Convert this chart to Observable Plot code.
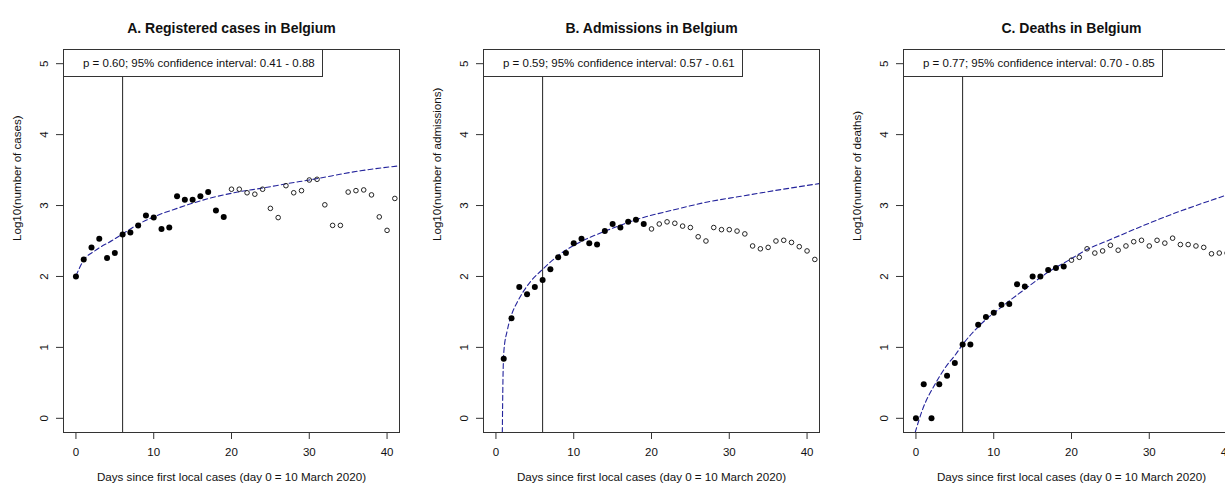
<!DOCTYPE html>
<html>
<head>
<meta charset="utf-8">
<script src="https://cdn.jsdelivr.net/npm/d3@7"></script>
<script src="https://cdn.jsdelivr.net/npm/@observablehq/plot@0.6"></script>
<style>
  html, body { margin: 0; padding: 0; background: #fff; overflow: hidden; }
  #row { display: flex; width: 1260px; height: 486px; }
  .panel { position: relative; width: 420px; height: 486px; flex: none; }
  .legend {
    position: absolute; left: 63px; top: 49px; width: 260px; height: 28px;
    box-sizing: border-box; border: 1px solid #333; background: #fff;
    font: 11.5px "Liberation Sans", Arial, sans-serif; color: #111;
    padding-left: 19px; line-height: 26px; white-space: nowrap;
  }
</style>
</head>
<body>
<div id="row"></div>
<script>
// Days since the first local cases (day 0 = 10 March 2020)
const days = [0, 1, 2, 3, 4, 5, 6, 7, 8, 9, 10, 11, 12, 13, 14, 15, 16, 17, 18, 19, 20,
  21, 22, 23, 24, 25, 26, 27, 28, 29, 30, 31, 32, 33, 34, 35, 36, 37, 38, 39, 40, 41];

// Last day included in the growth-model fit (filled dots); later days are open circles
const lastFitDay = 19;
// Day marked by the vertical reference line
const markerDay = 6;

// log10 of daily counts
const casesLog = [2.00, 2.24, 2.41, 2.53, 2.26, 2.33, 2.59, 2.62, 2.72, 2.86, 2.83, 2.67, 2.69,
  3.13, 3.08, 3.08, 3.13, 3.19, 2.93, 2.84, 3.23, 3.23, 3.18, 3.16, 3.23, 2.96, 2.83, 3.28,
  3.18, 3.21, 3.36, 3.37, 3.01, 2.72, 2.72, 3.19, 3.21, 3.22, 3.15, 2.84, 2.65, 3.10];
const admissionsLog = [null, 0.84, 1.41, 1.85, 1.75, 1.85, 1.95, 2.10, 2.27, 2.33, 2.47, 2.53,
  2.47, 2.45, 2.64, 2.74, 2.69, 2.77, 2.80, 2.74, 2.67, 2.74, 2.77, 2.75, 2.71, 2.69, 2.56,
  2.50, 2.69, 2.66, 2.66, 2.64, 2.60, 2.43, 2.39, 2.41, 2.50, 2.51, 2.48, 2.42, 2.36, 2.24];
const deathsLog = [0.00, 0.48, 0.00, 0.48, 0.60, 0.78, 1.04, 1.04, 1.32, 1.43, 1.49, 1.60, 1.61,
  1.89, 1.86, 2.00, 2.00, 2.09, 2.12, 2.14, 2.23, 2.27, 2.39, 2.33, 2.36, 2.44, 2.37, 2.43,
  2.49, 2.51, 2.43, 2.51, 2.47, 2.54, 2.45, 2.45, 2.43, 2.41, 2.32, 2.33, 2.33, null];

// Fitted growth curves (day, log10 value)
const casesFitDay = [0, 1, 2.4, 4.7, 6, 7.9, 10, 13, 17.1, 20.8, 24.2, 27.2, 30, 36.6, 41.6];
const casesFitLog = [2.01, 2.23, 2.36, 2.51, 2.60, 2.73, 2.84, 2.96, 3.10, 3.19, 3.25, 3.31, 3.36, 3.49, 3.56];
const admissionsFitDay = [0.82, 0.9, 1.03, 1.46, 1.98, 2.75, 3.6, 4.46, 6.0, 8.3, 10.9, 14.3, 18.6, 22.9, 27.2, 31.5, 35.8, 41.6];
const admissionsFitLog = [-0.2, 0.53, 0.96, 1.24, 1.45, 1.64, 1.80, 1.93, 2.10, 2.32, 2.49, 2.65, 2.82, 2.94, 3.05, 3.13, 3.21, 3.31];
const deathsFitDay = [-0.1, 0.8, 2.5, 3.8, 5.1, 6.0, 8.1, 11.0, 14.0, 17.0, 19.5, 22.2, 25.0, 28.2, 32.5, 36.0, 40.0, 41.6];
const deathsFitLog = [-0.2, 0.11, 0.49, 0.72, 0.90, 1.04, 1.30, 1.57, 1.82, 2.06, 2.22, 2.39, 2.52, 2.67, 2.86, 3.00, 3.15, 3.21];

// Panel text
const titles = ["A. Registered cases in Belgium", "B. Admissions in Belgium", "C. Deaths in Belgium"];
const yLabels = ["Log10(number of cases)", "Log10(number of admissions)", "Log10(number of deaths)"];
const legendTexts = [
  "p = 0.60; 95% confidence interval: 0.41 - 0.88",
  "p = 0.59; 95% confidence interval: 0.57 - 0.61",
  "p = 0.77; 95% confidence interval: 0.70 - 0.85"
];
const xLabel = "Days since first local cases (day 0 = 10 March 2020)";
const xTicks = [0, 10, 20, 30, 40];
const yTicks = [0, 1, 2, 3, 4, 5];

const series = [casesLog, admissionsLog, deathsLog];
const fitDays = [casesFitDay, admissionsFitDay, deathsFitDay];
const fitLogs = [casesFitLog, admissionsFitLog, deathsFitLog];

const font = '"Liberation Sans", Arial, sans-serif';
const row = document.getElementById("row");

series.forEach((values, k) => {
  const pts = days.map((d, i) => ({day: d, value: values[i]})).filter(d => d.value != null);
  const inFit = pts.filter(d => d.day <= lastFitDay);
  const after = pts.filter(d => d.day > lastFitDay);
  const fit = fitDays[k].map((x, i) => ({day: x, value: fitLogs[k][i]}));

  const chart = Plot.plot({
    width: 420,
    height: 486,
    marginLeft: 63,
    marginRight: 21,
    marginTop: 49,
    marginBottom: 54,
    x: {domain: [-1.6, 41.6]},
    y: {domain: [-0.2, 5.2]},
    style: {fontFamily: font, fontSize: "11.5px", color: "#111", background: "#fff", overflow: "visible"},
    marks: [
      Plot.ruleX([markerDay], {stroke: "#222", strokeWidth: 1}),
      Plot.line(fit, {x: "day", y: "value", stroke: "#24249c", strokeWidth: 1.1,
        strokeDasharray: "5,3", curve: "monotone-x", clip: true}),
      Plot.dot(after, {x: "day", y: "value", r: 2.3, fill: "none", stroke: "#222", strokeWidth: 1}),
      Plot.dot(inFit, {x: "day", y: "value", r: 3, fill: "#000", stroke: "none"}),
      Plot.frame({stroke: "#333", strokeWidth: 1}),
      Plot.axisX({ticks: xTicks, tickFormat: d => String(d), tickSize: 7, tickPadding: 8,
        label: null, fontSize: 11.5, stroke: "#333"}),
      Plot.axisY({ticks: yTicks, tickFormat: d => String(d), tickSize: 7, tickPadding: 9,
        tickRotate: -90, label: null, fontSize: 11.5, stroke: "#333"}),
      Plot.text([titles[k]], {text: d => d, frameAnchor: "top", dy: -26, fontSize: 14, fontWeight: "bold"}),
      Plot.text([xLabel], {text: d => d, frameAnchor: "bottom", dy: 48, fontSize: 11.6}),
      Plot.text([yLabels[k]], {text: d => d, frameAnchor: "left", dx: -46, rotate: -90, fontSize: 11.6})
    ]
  });

  const panel = document.createElement("div");
  panel.className = "panel";
  panel.appendChild(chart);
  const legend = document.createElement("div");
  legend.className = "legend";
  legend.textContent = legendTexts[k];
  panel.appendChild(legend);
  row.appendChild(panel);
});
</script>
</body>
</html>
